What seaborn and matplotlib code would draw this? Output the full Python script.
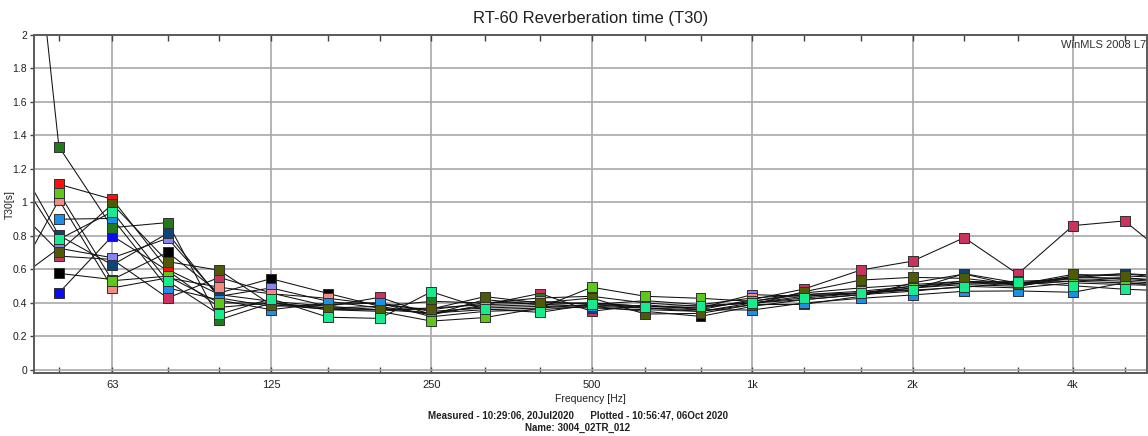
import numpy as np
import pandas as pd
import matplotlib
matplotlib.use("Agg")
import matplotlib.pyplot as plt
import seaborn as sns

# Third-octave band centre frequencies [Hz]
bands = [40, 50, 63, 80, 100, 125, 160, 200, 250, 315, 400, 500, 630,
         800, 1000, 1250, 1600, 2000, 2500, 3150, 4000, 5000, 6300]
nan = np.nan

# T30 per band for each measurement position [s]
pos_dark_green = [4.2, 1.333, 0.85, 0.88, 0.30, 0.40, 0.37, 0.38, 0.41, 0.40, 0.43, 0.44, 0.40,
                  0.38, 0.40, 0.44, 0.46, 0.50, 0.53, 0.52, 0.55, 0.55, 0.53]
pos_red = [nan, 1.109, 1.019, 0.60, 0.45, 0.41, 0.38, 0.36, 0.37, 0.39, 0.40, 0.40, 0.38,
           0.37, 0.41, 0.46, 0.49, 0.51, 0.53, 0.51, 0.56, 0.54, 0.52]
pos_lime = [nan, 1.058, 0.533, 0.56, 0.40, 0.40, 0.36, 0.35, 0.292, 0.313, 0.37, 0.494, 0.44,
            0.428, 0.41, 0.45, 0.46, 0.49, 0.52, 0.51, 0.53, 0.52, 0.50]
pos_salmon = [0.45, 1.015, 0.49, 0.55, 0.494, 0.455, 0.428, 0.39, 0.36, 0.40, 0.41, 0.39, 0.414,
              0.39, 0.43, 0.45, 0.47, 0.50, 0.52, 0.53, 0.54, 0.53, 0.51]
pos_light_blue = [nan, 0.90, 0.905, 0.49, 0.418, 0.36, 0.40, 0.40, 0.318, 0.35, 0.36, 0.38, 0.37,
                  0.36, 0.358, 0.40, 0.428, 0.448, 0.47, 0.472, 0.464, 0.521, 0.50]
pos_navy = [1.35, 0.804, 0.627, 0.816, 0.43, 0.38, 0.39, 0.40, 0.35, 0.37, 0.38, 0.37, 0.36,
            0.35, 0.39, 0.392, 0.44, 0.52, 0.573, 0.50, 0.55, 0.575, 0.54]
pos_spring = [1.26, 0.78, 0.945, 0.53, 0.332, 0.425, 0.315, 0.308, 0.467, 0.364, 0.344, 0.392, 0.378,
              0.384, 0.40, 0.43, 0.458, 0.477, 0.494, 0.523, 0.503, 0.482, 0.47]
pos_periwinkle = [0.50, 0.727, 0.67, 0.786, 0.44, 0.49, 0.41, 0.37, 0.34, 0.38, 0.39, 0.40, 0.38,
                  0.37, 0.45, 0.44, 0.46, 0.48, 0.575, 0.52, 0.53, 0.55, 0.52]
pos_olive = [1.02, 0.706, 0.99, 0.647, 0.595, 0.39, 0.362, 0.358, 0.364, 0.438, 0.40, 0.43, 0.334,
             0.338, 0.39, 0.467, 0.537, 0.553, 0.547, 0.51, 0.571, 0.561, 0.55]
pos_crimson = [nan, 0.68, 0.66, 0.43, 0.553, 0.46, 0.38, 0.434, 0.33, 0.39, 0.457, 0.35, 0.39,
               0.36, 0.42, 0.483, 0.597, 0.65, 0.79, 0.573, 0.862, 0.89, 0.63]
pos_black = [nan, 0.577, 0.54, 0.703, 0.46, 0.545, 0.457, 0.38, 0.33, 0.42, 0.39, 0.38, 0.35,
             0.32, 0.38, 0.42, 0.45, 0.49, 0.51, 0.50, 0.56, 0.575, 0.56]
pos_blue = [nan, 0.46, 0.80, 0.593, 0.374, 0.40, 0.37, 0.36, 0.34, 0.36, 0.37, 0.39, 0.37,
            0.35, 0.40, 0.42, 0.45, 0.47, 0.50, 0.49, 0.52, 0.51, 0.50]

# Drawing order: later positions end up on top of the stack
positions = {
    "P10": (pos_crimson, "#cc325e"),
    "P12": (pos_blue, "#0a0af5"),
    "P11": (pos_black, "#000000"),
    "P02": (pos_red, "#ff1010"),
    "P08": (pos_periwinkle, "#8884f4"),
    "P06": (pos_navy, "#0f4478"),
    "P01": (pos_dark_green, "#237a1e"),
    "P04": (pos_salmon, "#f58a84"),
    "P05": (pos_light_blue, "#1c90e6"),
    "P03": (pos_lime, "#5cc81a"),
    "P09": (pos_olive, "#4f5a04"),
    "P07": (pos_spring, "#16ec8e"),
}

x_major = [63, 125, 250, 500, 1000, 2000, 4000]
x_major_labels = ["63", "125", "250", "500", "1k", "2k", "4k"]
x_minor = [50, 80, 100, 160, 200, 315, 400, 630, 800, 1250, 1600, 2500, 3150, 5000]
y_ticks = [0, 0.2, 0.4, 0.6, 0.8, 1.0, 1.2, 1.4, 1.6, 1.8, 2.0]
y_tick_labels = ["0", "0.2", "0.4", "0.6", "0.8", "1", "1.2", "1.4", "1.6", "1.8", "2"]

rows = []
for name, (vals, _) in positions.items():
    for f, v in zip(bands, vals):
        if not np.isnan(v):
            rows.append({"freq": f, "t30": v, "position": name})
df = pd.DataFrame(rows)
palette = {name: col for name, (_, col) in positions.items()}

sns.set_style("white")
plt.rcParams["font.family"] = ["Liberation Sans", "DejaVu Sans"]

fig = plt.figure(figsize=(11.48, 4.36), dpi=100)
ax = fig.add_axes([34 / 1148, 1 - 373 / 436, (1147 - 34) / 1148, (373 - 35) / 436])

sns.lineplot(data=df, x="freq", y="t30", units="position", estimator=None,
             color="#111111", lw=0.75, sort=False, legend=False, ax=ax, zorder=2)
sns.scatterplot(data=df, x="freq", y="t30", hue="position", palette=palette,
                marker="s", s=50, edgecolor="#303030", linewidth=0.7,
                legend=False, ax=ax, zorder=3)

ax.set_xscale("log")
ax.set_xlim(44.9, 5507)
ax.set_ylim(-0.018, 2.0)

ax.set_xticks(x_major)
ax.set_xticklabels(x_major_labels)
ax.set_xticks(x_minor, minor=True)
ax.set_xticklabels([], minor=True)
ax.set_yticks(y_ticks)
ax.set_yticklabels(y_tick_labels)

ax.tick_params(axis="x", which="both", direction="in", top=True, bottom=True,
               length=4, width=1, color="#404040", labelsize=8, pad=5, labelcolor="#202020")
ax.tick_params(axis="y", which="major", direction="out", left=True, length=3, width=1,
               color="#404040", labelsize=7.5, pad=2, labelcolor="#202020")

ax.grid(True, which="major", color="#a8a8a8", lw=1.2)
ax.set_axisbelow(True)
for sp in ax.spines.values():
    sp.set_color("#5a5a5a")
    sp.set_linewidth(1.4)

ax.set_xlabel("Frequency [Hz]", fontsize=7.5, labelpad=3, color="#202020")
ax.set_ylabel("T30[s]", fontsize=7.5, color="#202020")
ax.yaxis.set_label_coords(-0.017, 0.5)

ax.set_title("RT-60 Reverberation time (T30)", fontsize=12, pad=9, color="#202020")
ax.text(0.999, 0.985, "WinMLS 2008 L7", transform=ax.transAxes, ha="right", va="top",
        fontsize=8, color="#303030")

fig.text(578 / 1148, 1 - 415 / 436, "Measured - 10:29:06, 20Jul2020      Plotted - 10:56:47, 06Oct 2020",
         ha="center", va="center", fontsize=7, fontweight="bold", color="#202020")
fig.text(578 / 1148, 1 - 428 / 436, "Name: 3004_02TR_012",
         ha="center", va="center", fontsize=7, fontweight="bold", color="#202020")

fig.savefig("out.png", dpi=100)
